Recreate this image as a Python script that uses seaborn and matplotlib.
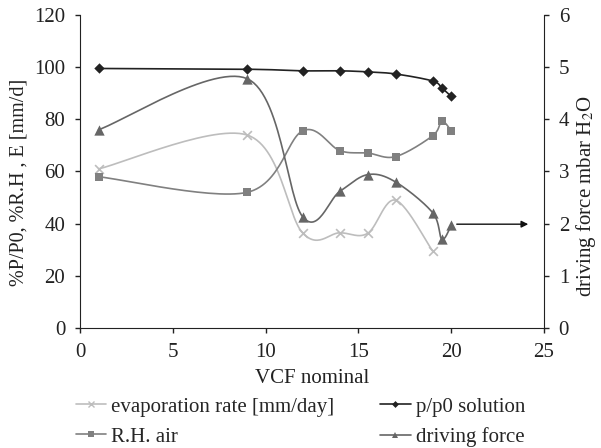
import numpy as np
import matplotlib
matplotlib.use("Agg")
import matplotlib.pyplot as plt
import seaborn as sns
from matplotlib.lines import Line2D

# ---- data ----
vcf = [1, 9, 12, 14, 15.5, 17, 19, 19.5, 20]
p_p0 = [99.5, 99.2, 98.6, 98.6, 98.2, 97.4, 94.7, 92.0, 88.8]
rh_air = [58.0, 52.0, 75.6, 68.0, 67.1, 65.7, 73.7, 79.2, 75.6]
driving_force = [3.80, 4.78, 2.13, 2.62, 2.94, 2.80, 2.21, 1.70, 1.97]
vcf_evap = [1, 9, 12, 14, 15.5, 17, 19]
evap_rate = [61.0, 74.0, 36.4, 36.5, 36.3, 49.0, 29.5]

sns.set_style("ticks")
plt.rcParams['font.family'] = ['Liberation Serif', 'DejaVu Serif']
plt.rcParams['mathtext.fontset'] = 'stix'
FS = 15


def smooth(xs, ys, n=30):
    """Excel-like smooth line (Catmull-Rom as cubic Bezier) through the points."""
    P = np.column_stack([xs, ys]).astype(float)
    P_ext = np.vstack([P[0], P, P[-1]])
    out = []
    t = np.linspace(0, 1, n)[:, None]
    for i in range(1, len(P_ext) - 2):
        p0, p1, p2, p3 = P_ext[i - 1], P_ext[i], P_ext[i + 1], P_ext[i + 2]
        c1 = p1 + (p2 - p0) / 6.0
        c2 = p2 - (p3 - p1) / 6.0
        seg = ((1 - t) ** 3) * p1 + 3 * ((1 - t) ** 2) * t * c1 + 3 * (1 - t) * t ** 2 * c2 + t ** 3 * p2
        out.append(seg if i == 1 else seg[1:])
    s = np.vstack(out)
    return s[:, 0], s[:, 1]


fig = plt.figure(figsize=(6.01, 4.48), dpi=100)
ax = fig.add_axes([80 / 601, 1 - 328 / 448, (544 - 80) / 601, (328 - 15) / 448])
ax2 = ax.twinx()

c_evap = "#bdbdbd"
c_pp0 = "#222222"
c_rh = "#808080"
c_df = "#666666"

# lines
sx, sy = smooth(vcf_evap, evap_rate)
ax.plot(sx, sy, color=c_evap, lw=1.2, zorder=2)
sx, sy = smooth(vcf, rh_air)
ax.plot(sx, sy, color=c_rh, lw=1.2, zorder=2)
sx, sy = smooth(vcf, p_p0)
ax.plot(sx, sy, color=c_pp0, lw=1.2, zorder=3)
sx, sy = smooth(vcf, driving_force)
ax2.plot(sx, sy, color=c_df, lw=1.2, zorder=2)

# markers
sns.scatterplot(x=vcf_evap, y=evap_rate, ax=ax, marker="x", color=c_evap, s=40, linewidth=1.2, zorder=4)
sns.scatterplot(x=vcf, y=rh_air, ax=ax, marker="s", color=c_rh, s=40, linewidth=0, zorder=4)
sns.scatterplot(x=vcf, y=p_p0, ax=ax, marker="D", color=c_pp0, s=28, linewidth=0, zorder=5)
sns.scatterplot(x=vcf, y=driving_force, ax=ax2, marker="^", color=c_df, s=55, linewidth=0, zorder=4)

# arrow to right axis
ax2.annotate("", xy=(24.3, 1.99), xytext=(20.15, 1.99),
             arrowprops=dict(arrowstyle="-|>", color="#111111", lw=1.0, mutation_scale=10))

ax.set_xlim(0, 25)
ax.set_ylim(0, 120)
ax2.set_ylim(0, 6)
ax.set_xticks([0, 5, 10, 15, 20, 25])
ax.set_yticks([0, 20, 40, 60, 80, 100, 120])
ax2.set_yticks([0, 1, 2, 3, 4, 5, 6])

for a in (ax, ax2):
    a.spines['top'].set_visible(False)
    a.tick_params(labelsize=FS, direction='out', length=3.6, width=1, colors="#222222", pad=7)
    for sp in a.spines.values():
        sp.set_color("#222222")
ax.spines['right'].set_visible(False)
ax2.spines['left'].set_visible(False)
ax2.spines['bottom'].set_visible(False)

ax.set_xlabel("VCF nominal", fontsize=FS, labelpad=5, color="#222222")
ax.set_ylabel("%P/P0, %R.H , E [mm/d]", fontsize=14.5, color="#222222")
ax.yaxis.set_label_coords(-0.112, 0.465)
ax2.set_ylabel("driving force mbar H$_2$O", fontsize=15, color="#222222")
ax2.yaxis.set_label_coords(1.064, 0.42)

handles = [
    Line2D([], [], color=c_evap, marker="x", markersize=5, lw=1.2),
    Line2D([], [], color=c_rh, marker="s", markersize=4, lw=1.2, markeredgewidth=0),
    Line2D([], [], color=c_pp0, marker="D", markersize=3.5, lw=1.2, markeredgewidth=0),
    Line2D([], [], color=c_df, marker="^", markersize=5, lw=1.2, markeredgewidth=0),
]
labels = ["evaporation rate [mm/day]", "R.H. air", "p/p0 solution", "driving force"]
fig.legend(handles, labels, loc="upper left", bbox_to_anchor=(76 / 601, 1 - 397 / 448),
           ncol=2, frameon=False, fontsize=FS, handlelength=1.45, handletextpad=0.25,
           columnspacing=2.2, labelspacing=0.5, borderaxespad=0, borderpad=0)

fig.savefig("out.png", dpi=100)
